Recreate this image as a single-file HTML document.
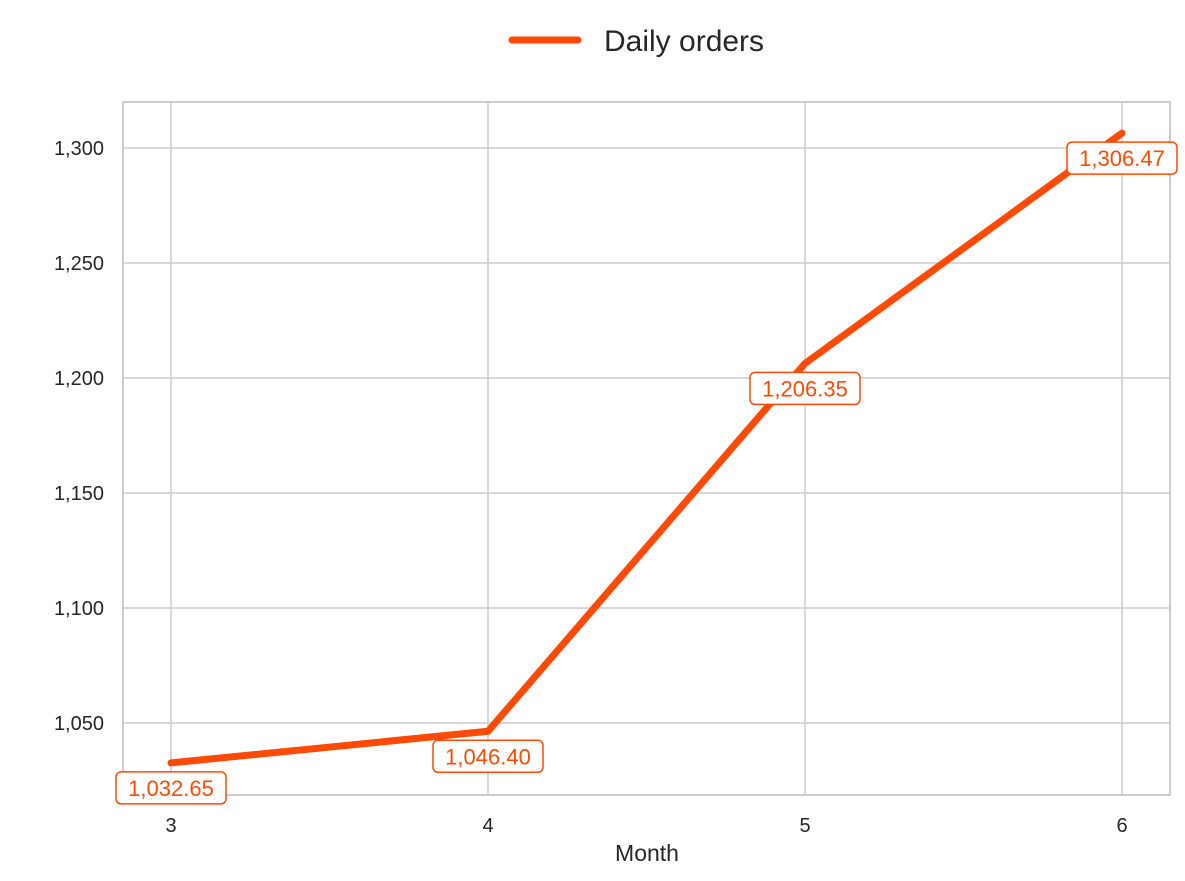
<!DOCTYPE html>
<html><head><meta charset="utf-8"><style>
html,body{margin:0;padding:0;background:#fff;}
svg{display:block;font-family:"Liberation Sans",sans-serif;}
</style></head><body>
<svg id="chart" width="1185" height="881">
<g id="grid"></g><g id="series"></g><g id="labels"></g>
</svg>
<script>
const categories = [3, 4, 5, 6];
const values = [1032.65, 1046.40, 1206.35, 1306.47];
const valueLabels = ["1,032.65", "1,046.40", "1,206.35", "1,306.47"];
const yTicks = [1050, 1100, 1150, 1200, 1250, 1300];
const yTickLabels = ["1,050", "1,100", "1,150", "1,200", "1,250", "1,300"];

const NS = "http://www.w3.org/2000/svg";
const svg = document.getElementById('chart');
const L = 123, R = 1170, T = 102, B = 795;
function xs(c){ return 171 + (c - 3) * 317; }
function ys(v){ return 723 - (v - 1050) * 2.3; }
function mk(tag, attrs, parent, text){
  const e = document.createElementNS(NS, tag);
  for (const k in attrs) e.setAttribute(k, attrs[k]);
  if (text !== undefined) e.textContent = text;
  (parent || svg).appendChild(e);
  return e;
}
const grid = document.getElementById('grid');
categories.forEach(c => {
  const g = mk('line', {x1: xs(c), x2: xs(c), y1: T, y2: B, stroke: '#cccccc', 'stroke-width': 1.5}, grid);
  
  
  const t = mk('text', {x: xs(c), y: 832, 'text-anchor': 'middle', 'font-size': 20, fill: '#262626'}, svg, String(c));
  
  
});
yTicks.forEach((v, i) => {
  const g = mk('line', {x1: L, x2: R, y1: ys(v), y2: ys(v), stroke: '#cccccc', 'stroke-width': 1.5}, grid);
  
  
  const t = mk('text', {x: 104, y: ys(v) + 7, 'text-anchor': 'end', 'font-size': 20, fill: '#262626'}, svg, yTickLabels[i]);
  
  
});
const frame = mk('rect', {x: L, y: T, width: R - L, height: B - T, fill: 'none', stroke: '#cccccc', 'stroke-width': 2}, grid);



const pts = categories.map((c, i) => xs(c) + ',' + ys(values[i])).join(' ');
const line = mk('polyline', {points: pts, fill: 'none', stroke: '#ff4a05', 'stroke-width': 7, 'stroke-linecap': 'round', 'stroke-linejoin': 'round'}, document.getElementById('series'));



const lab = document.getElementById('labels');
categories.forEach((c, i) => {
  const cx = xs(c), cy = ys(values[i]) + 25;
  const r = mk('rect', {x: cx - 55, y: cy - 16, width: 110, height: 32, rx: 5, fill: '#fff', stroke: '#ff4a05', 'stroke-width': 1.5}, lab);
  
  
  const t = mk('text', {x: cx, y: cy + 8, 'text-anchor': 'middle', 'font-size': 22, fill: '#ff4a05'}, lab, valueLabels[i]);
  
  
});

const xt = mk('text', {x: 647, y: 861, 'text-anchor': 'middle', 'font-size': 23, fill: '#262626'}, svg, 'Month');



const lg = mk('g', {}, svg);


mk('line', {x1: 512, x2: 578, y1: 40, y2: 40, stroke: '#ff4a05', 'stroke-width': 7, 'stroke-linecap': 'round'}, lg);
mk('text', {x: 604, y: 51, 'font-size': 30, fill: '#262626'}, lg, 'Daily orders');
</script>
</body></html>
